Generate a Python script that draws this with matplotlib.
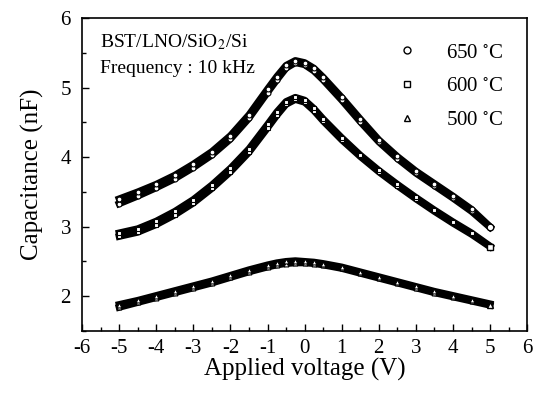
import matplotlib
matplotlib.use("Agg")
import matplotlib.pyplot as plt
from matplotlib.lines import Line2D
from matplotlib.ticker import MultipleLocator

plt.rcParams["font.family"] = ["Liberation Serif", "DejaVu Serif"]
plt.rcParams["mathtext.fontset"] = "stix"
plt.rcParams["axes.unicode_minus"] = False

# voltage sweep points (V)
voltage = [-5, -4.5, -4, -3.5, -3, -2.5, -2, -1.5, -1, -0.75, -0.5, -0.25, 0,
           0.25, 0.5, 1, 1.5, 2, 2.5, 3, 3.5, 4, 4.5, 5]

# capacitance (nF), forward and reverse sweep for each annealing temperature
cap_650_fwd = [3.33, 3.44, 3.56, 3.69, 3.85, 4.03, 4.26, 4.56, 4.93, 5.11, 5.28, 5.36, 5.33,
               5.24, 5.11, 4.82, 4.51, 4.22, 3.98, 3.77, 3.59, 3.41, 3.22, 2.99]
cap_650_rev = [3.40, 3.50, 3.61, 3.74, 3.90, 4.08, 4.31, 4.61, 4.98, 5.16, 5.32, 5.39, 5.36,
               5.28, 5.15, 4.86, 4.55, 4.25, 4.01, 3.80, 3.62, 3.44, 3.25, 3.00]

cap_600_fwd = [2.86, 2.92, 3.03, 3.17, 3.34, 3.55, 3.79, 4.07, 4.42, 4.60, 4.76, 4.83, 4.79,
               4.67, 4.52, 4.25, 4.01, 3.79, 3.59, 3.40, 3.22, 3.05, 2.89, 2.71]
cap_600_rev = [2.91, 2.97, 3.08, 3.22, 3.39, 3.60, 3.84, 4.12, 4.47, 4.65, 4.80, 4.86, 4.82,
               4.70, 4.55, 4.28, 4.03, 3.81, 3.61, 3.42, 3.24, 3.07, 2.91, 2.72]

cap_500_fwd = [1.84, 1.91, 1.98, 2.05, 2.12, 2.19, 2.27, 2.35, 2.42, 2.45, 2.47, 2.48, 2.48,
               2.47, 2.45, 2.40, 2.33, 2.26, 2.19, 2.12, 2.05, 1.99, 1.93, 1.87]
cap_500_rev = [1.88, 1.94, 2.01, 2.08, 2.15, 2.22, 2.30, 2.38, 2.45, 2.48, 2.50, 2.51, 2.50,
               2.49, 2.47, 2.42, 2.35, 2.28, 2.21, 2.14, 2.07, 2.01, 1.95, 1.89]

labels = ["650 $^{\\circ}$C", "600 $^{\\circ}$C", "500 $^{\\circ}$C"]
markers = ["o", "s", "^"]

fig = plt.figure(figsize=(5.33, 3.94), dpi=100)
ax = fig.add_axes([0.154, 0.160, 0.835, 0.794])

series = [(cap_650_fwd, cap_650_rev), (cap_600_fwd, cap_600_rev), (cap_500_fwd, cap_500_rev)]
for (fwd, rev), mk in zip(series, markers):
    for cap in (fwd, rev):
        ax.plot(voltage, cap, color="black", lw=5, solid_joinstyle="round", zorder=2)
        ax.plot(voltage, cap, linestyle="none", marker=mk, ms=3.5, mfc="white",
                mec="black", mew=0.8, zorder=3)
    # open marker at the sweep end stays visible
    ax.plot(voltage[-1], fwd[-1], marker=mk, ms=4.8, mfc="white", mec="black", mew=1.0, zorder=4)

ax.set_xlim(-6, 6)
ax.set_ylim(1.5, 6)
ax.xaxis.set_major_locator(MultipleLocator(1))
ax.xaxis.set_minor_locator(MultipleLocator(0.5))
ax.yaxis.set_major_locator(MultipleLocator(1))
ax.yaxis.set_minor_locator(MultipleLocator(0.5))
ax.tick_params(which="both", direction="in", top=False, right=False, labelsize=15)
ax.tick_params(axis="y", pad=8)
ax.tick_params(axis="x", pad=6)
ax.tick_params(which="major", length=5, width=1)
ax.tick_params(which="minor", length=3, width=1)
for sp in ax.spines.values():
    sp.set_linewidth(1.2)

ax.set_xlabel("Applied voltage (V)", fontsize=18, labelpad=0)
ax.set_ylabel("Capacitance (nF)", fontsize=18, labelpad=12)

ax.text(0.04, 0.923, "BST/LNO/SiO$_2$/Si", transform=ax.transAxes, fontsize=14, va="center")
ax.text(0.04, 0.840, "Frequency : 10 kHz", transform=ax.transAxes, fontsize=14, va="center")

handles = [Line2D([], [], linestyle="none", marker=mk, ms=5, mfc="white", mec="black", mew=1.0)
           for mk in markers]
ax.legend(handles, labels, loc="upper right", frameon=False, fontsize=15,
          handlelength=1.0, handletextpad=1.4, labelspacing=0.68,
          bbox_to_anchor=(0.99, 0.98))

fig.savefig("out.png", dpi=100)
